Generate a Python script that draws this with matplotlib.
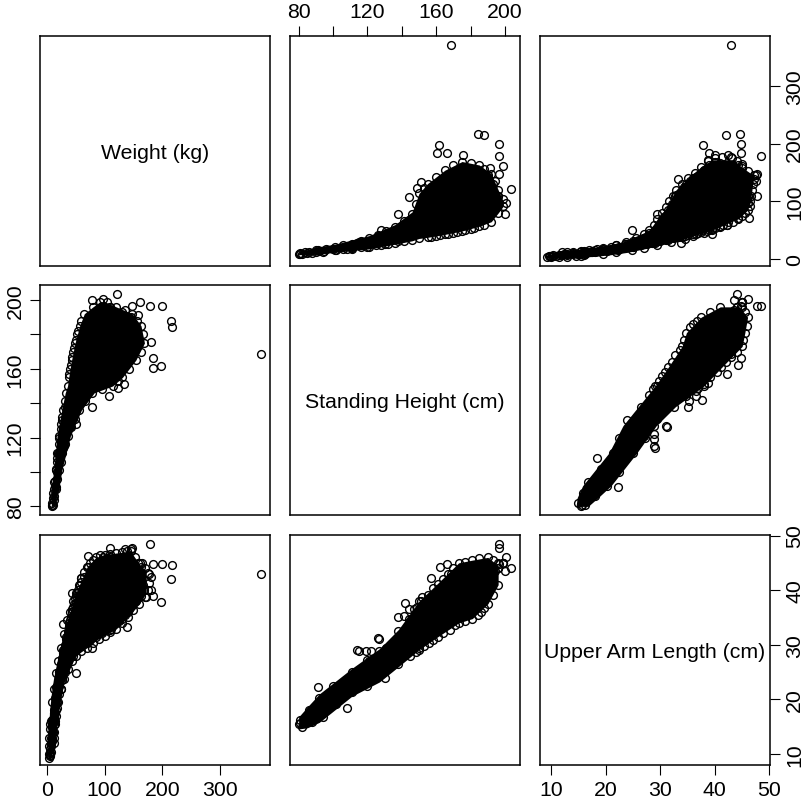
import numpy as np
import matplotlib
matplotlib.use('Agg')
import matplotlib.pyplot as plt

plt.rcParams['font.family'] = ['Liberation Sans', 'DejaVu Sans']

# Points. Only the edge of each cloud and the stragglers can
# be told apart, the inside is solid black, so that part is the envelopes below.

# infants: weight and arm only, no standing height
w_infant = [4,5,5,6,6,7,7,8,8,9,9,10,10,11,11,12,3.5,4,4.5,5,6,12,13,14,15]
a_infant = [9.3,9.6,10.2,9.9,11,10.4,12,11.5,13,12.4,14,13,15,14,16,15.4,10,11.5,13,14.5,15.5,12,14,16,17.5]

# heavy edge of height vs weight
h_heavy = [81,84,90,96,101,106,111,116,121,126,131,136,141,146,148,150,153,155,160,165,170,175,180,185,188,192,194,196,199]
w_heavy = [11.5,13,15.5,18.5,21,24,27,31,36,42,49,56,67,79,95,114,124,131,143,154,163,169,167,163,156,148,135,120,104]
a_heavy = [15.6,16,18,19.5,21,22,23.5,25,27,28,29.5,30.5,32,33.5,34,34.5,35,35.5,36.5,38,39,40,41,42,42.5,43,43.5,44,45]

# light edge of height vs weight
h_light = [80,90,101,111,121,128,136,146,155,160,165,170,175,180,185,192,196,199,
           85,95,106,116,125,132,141,150,157,162,167,172,177,182,188]
w_light = [9.5,12,16.5,19,22,25.5,29,34,38,41,43,46,49,52,57,65,80,92,
           11,14,18,21,24,27,31,36,39,42,44,47,50,54,60]
a_light = [15.5,17.5,20.5,23,25,26.5,28.5,31.5,33.5,34.5,36,37,38.5,39.5,41,42.5,44,45,
           16.5,19,21.8,24,26,27.5,30,32.5,34,35,36.5,37.5,39,40,41.5]

# long arm edge of arm vs height
h_long = [81,86,92,100,111,120,127,138,144,150,155,161,167,173,181,190,196,
          147,152,158,164,170,177,185,193]
a_long = [16.2,18,20.2,22.4,25.1,27.3,28.8,32.6,34.8,38,39.2,41.2,42.9,45,45.5,46,45,
          36.5,38.7,40.4,42,44,45.2,45.8,45.6]
w_long = [10,12,14,17,21,26,30,40,50,60,70,75,80,95,100,110,110,
          55,65,72,78,90,98,105,110]

# short arm edge of arm vs height
h_short = [82,88,94,102,111,120,130,138,145,150,156,161,168,173,181,186,190,196,
           148,153,158,164,171,177,184,188,193]
a_short = [15,15.8,16.8,19.2,21.4,22.4,24,26.4,28,29.1,30.3,31.5,32.8,34,34.8,36,37.5,41,
           28.7,29.7,30.9,32.2,33.6,34.4,35.4,36.7,39.2]
w_short = [10,11,13,16,18,22,27,32,45,50,70,85,110,120,130,140,145,110,
           48,60,75,95,115,125,135,142,130]

# upper and lower edge of arm vs weight, height not used
w_top = [7,10,13,16,20,25,30,35,40,45,50,55,60,65,70,75,80,85,92,100,110,120,130,138,145,152,158,163,170,176,180]
a_top = [16,19.5,22,24.8,27,29.5,32,34.5,36,38,39.4,41,42.2,43.4,44.3,45,45.6,46,46.4,46.5,46.6,46.8,47,47.2,47.1,46,45,44.3,44,43,42.5]
w_bottom = [12,14,16,20,25,30,36,43,50,60,70,80,90,100,110,120,130,140,150,160,170,175]
a_bottom = [13,15.5,17,19.5,22,23.7,25.5,27,28,28.8,29.5,30.4,31,31.7,32.3,32.9,34,35,36.4,37.5,38.8,40]
w_edge = [135,146,165,175.6,177,172,138,112,109,71,44,29]
a_edge = [47.6,47.6,45,43.1,41.3,38.8,33.3,32.9,47.8,46.3,39.5,33.8]

# stragglers
w_out = [371,217,214,200,179,162,122,198,184,184,79,79,107,134,124,97,78,148,181,157,
         51,30,30,32,34,50,48,60,72,16,18,40,28]
h_out = [168.5,184,188,196.5,196.5,199,203.7,161.7,160.7,166,137.5,150,144,151,149,200.6,200,196.5,175.6,191,
         128,115,119,122,126.5,142,141,157,162,91,108.4,126,114]
a_out = [43,44.7,42.1,44.8,48.5,45,44,37.9,39,44.8,35,29.5,36.5,38,37,46,43.5,47.8,40,41,
         24.9,28.8,28.8,28.8,31,37.6,35.3,42.2,44.2,22.2,18.4,31.2,29]

# Extent of the solid black core, one envelope per pair of variables
core_h = [80,84,90,101,121,136,146,150,155,165,175,185,192,196,199]
core_w_low = [8,8,8.5,12,18,26,32,36,38,43,49,57,65,80,92]
core_w_high = [13,16,21,26,41,60,82,114,131,154,169,163,148,120,100]

core_h2 = [80,85,92,111,127,138,150,161,173,181,190,196]
core_a_low = [14.6,14.8,15.8,20.6,23.2,26,29.1,31.5,34,34.8,37.5,41]
core_a_high = [16.8,18.6,21,25.7,29.3,32.8,38,41.3,45,45.5,46,44.5]

core_w2 = [2,5,8,12,16,18,30,50,70,85,100,120,145,160,172]
core_wa_low = [9.5,9,9.5,11,14,16.5,23.2,28,29.5,30.8,31.7,32.9,35.6,37.5,39.5]
core_wa_high = [12,18,21,24,26,27,32.5,39.4,44.3,46,46.5,46.8,47.1,44.8,43.5]

nan_infant = [np.nan] * len(w_infant)
nan_edge = [np.nan] * (len(w_top) + len(w_bottom) + len(w_edge))

weight = w_infant + w_heavy + w_light + w_long + w_short + w_top + w_bottom + w_edge + w_out
height = nan_infant + h_heavy + h_light + h_long + h_short + nan_edge + h_out
arm = a_infant + a_heavy + a_light + a_long + a_short + a_top + a_bottom + a_edge + a_out

names = ['Weight (kg)', 'Standing Height (cm)', 'Upper Arm Length (cm)']
series = [weight, height, arm]
limits = [(-11.6, 386), (75.0, 208.7), (8.0, 50.1)]
ticks = [[0, 100, 200, 300], [80, 100, 120, 140, 160, 180, 200], [10, 20, 30, 40, 50]]
tick_labels = [['0', '100', '200', '300'],
               ['80', '', '120', '', '160', '', '200'],
               ['10', '20', '30', '40', '50']]

# (variable along, variable across): along values, low edge, high edge
cores = {
    (1, 0): (core_h, core_w_low, core_w_high),
    (1, 2): (core_h2, core_a_low, core_a_high),
    (0, 2): (core_w2, core_wa_low, core_wa_high),
}

W, H = 804, 803
lefts = [40, 290, 540]
tops = [37, 286, 536]
size = 230

fig = plt.figure(figsize=(W / 100, H / 100), dpi=100)
tick_style = dict(length=7.2, width=0.8, labelsize=15.3, pad=3.8)

for row in range(3):
    for col in range(3):
        ax = fig.add_axes([lefts[col] / W, 1 - (tops[row] + size) / H, size / W, size / H])
        ax.set_xlim(limits[col])
        ax.set_ylim(limits[row])
        ax.set_xticks([])
        ax.set_yticks([])
        for s in ax.spines.values():
            s.set_linewidth(1.1)
        if row == col:
            ax.text(0.5, 0.495, names[row], transform=ax.transAxes, ha='center', va='center', fontsize=15.3)
        else:
            if (col, row) in cores:
                along, low, high = cores[(col, row)]
                ax.fill_between(along, low, high, color='black', lw=0)
            else:
                along, low, high = cores[(row, col)]
                ax.fill_betweenx(along, low, high, color='black', lw=0)
            ax.plot(series[col], series[row], 'o', mfc='none', mec='black', ms=5.6, mew=1.0)
        # R pairs() style: axes alternate between the outer sides
        if row == 2 and col != 1:
            ax.set_xticks(ticks[col], tick_labels[col])
            ax.tick_params(axis='x', **tick_style)
        if row == 0 and col == 1:
            ax.set_xticks(ticks[col], tick_labels[col])
            ax.tick_params(axis='x', top=True, bottom=False, labeltop=True, labelbottom=False, **tick_style)
        if col == 2 and row != 1:
            ax.set_yticks(ticks[row], tick_labels[row], rotation=90, va='center')
            ax.tick_params(axis='y', right=True, left=False, labelright=True, labelleft=False, **tick_style)
        if col == 0 and row == 1:
            ax.set_yticks(ticks[row], tick_labels[row], rotation=90, va='center')
            ax.tick_params(axis='y', **tick_style)

fig.savefig('out.png', dpi=100)
